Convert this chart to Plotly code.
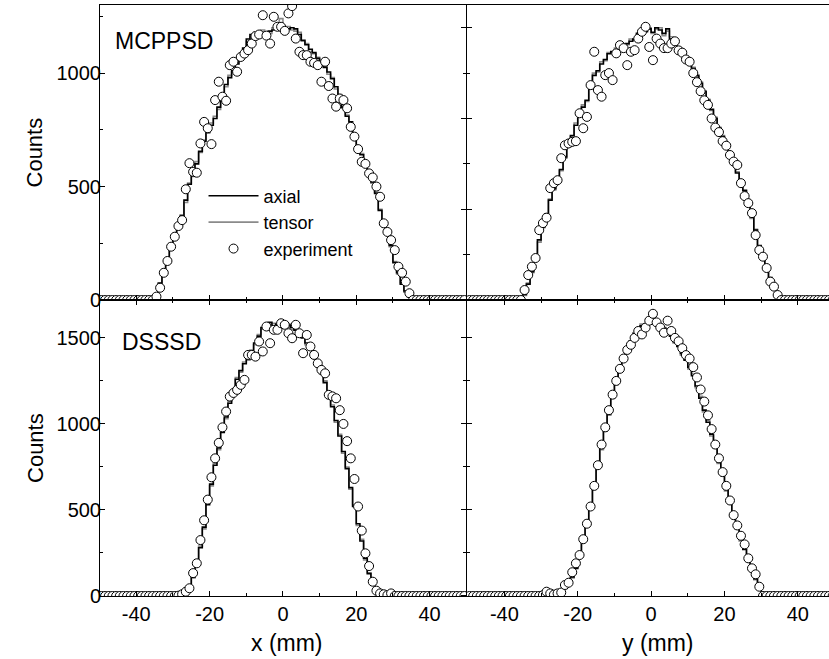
import plotly.graph_objects as go

# bin centres (mm), 1 mm bins from -50 to 50
bins = [i + 0.5 for i in range(-50, 50)]

# ---- MCPPSD, x profile (bins -34.5 .. 34.5 non-zero) ----
mcp_x_exp = [0] * 15 + [
    15, 54, 120, 172, 235, 279, 326, 352, 488, 603,
    565, 561, 690, 785, 757, 687, 881, 962, 896, 878,
    1035, 1050, 1006, 1071, 1086, 1101, 1130, 1163, 1170, 1255,
    1165, 1130, 1248, 1204, 1204, 1186, 1263, 1295, 1152, 1094,
    1079, 1079, 1050, 1045, 1035, 962, 1050, 943, 888, 852,
    888, 881, 845, 763, 720, 665, 609, 600, 558, 540,
    500, 455, 338, 300, 264, 220, 147, 120, 81, 30] + [0] * 15
mcp_x_axial = [0] * 15 + [
    15, 75, 120, 170, 225, 270, 320, 370, 440, 510,
    560, 600, 655, 700, 740, 770, 800, 850, 900, 950,
    980, 1010, 1040, 1070, 1110, 1150, 1170, 1170, 1175, 1180,
    1175, 1185, 1190, 1200, 1210, 1200, 1195, 1200, 1195, 1170,
    1145, 1125, 1105, 1090, 1065, 1045, 1025, 1005, 975, 940,
    900, 850, 810, 785, 730, 675, 640, 605, 560, 520,
    470, 395, 345, 290, 240, 165, 120, 70, 40, 15] + [0] * 15
mcp_x_tensor = [0] * 15 + [
    15, 70, 125, 165, 230, 265, 330, 375, 430, 515,
    545, 610, 650, 705, 735, 780, 810, 840, 905, 940,
    990, 1005, 1050, 1065, 1100, 1140, 1160, 1180, 1165, 1190,
    1180, 1175, 1200, 1215, 1240, 1195, 1205, 1190, 1185, 1180,
    1140, 1130, 1095, 1085, 1070, 1040, 1030, 995, 980, 930,
    905, 845, 815, 775, 735, 670, 645, 600, 565, 515,
    475, 400, 340, 295, 235, 170, 115, 75, 35, 12] + [0] * 15

# ---- MCPPSD, y profile ----
mcp_y_exp = [0] * 15 + [
    44, 110, 147, 185, 308, 339, 363, 493, 515, 528,
    625, 682, 690, 697, 700, 823, 757, 807, 947, 1094,
    925, 896, 991, 1000, 969, 1087, 1123, 1110, 1035, 1094,
    1101, 1152, 1182, 1204, 1115, 1057, 1152, 1130, 1110, 1110,
    1130, 1140, 1100, 1090, 1060, 1050, 1000, 960, 920, 880,
    860, 800, 760, 740, 700, 680, 639, 610, 595, 515,
    458, 427, 383, 286, 220, 191, 141, 81, 59, 22] + [0] * 15
mcp_y_axial = [0] * 15 + [
    25, 70, 125, 180, 265, 320, 380, 440, 490, 530,
    575, 631, 680, 725, 770, 820, 850, 880, 940, 990,
    1010, 1040, 1060, 1085, 1095, 1100, 1110, 1120, 1130, 1140,
    1150, 1175, 1180, 1185, 1195, 1180, 1200, 1190, 1175, 1195,
    1150, 1130, 1110, 1090, 1070, 1045, 1020, 990, 955, 920,
    880, 840, 800, 760, 720, 680, 646, 610, 560, 520,
    484, 420, 367, 308, 240, 195, 150, 95, 55, 15] + [0] * 15
mcp_y_tensor = [0] * 15 + [
    20, 75, 120, 185, 255, 325, 375, 445, 485, 540,
    570, 625, 690, 720, 780, 810, 860, 875, 930, 1000,
    1005, 1050, 1055, 1090, 1090, 1110, 1105, 1125, 1125, 1150,
    1145, 1165, 1190, 1180, 1200, 1175, 1195, 1200, 1165, 1185,
    1160, 1125, 1115, 1085, 1075, 1040, 1025, 985, 960, 915,
    885, 835, 805, 755, 725, 675, 650, 605, 565, 515,
    480, 425, 360, 312, 235, 200, 145, 100, 50, 18] + [0] * 15

# ---- DSSSD, x profile (bins -29.5 .. 29.5) ----
dss_x_exp = [0] * 20 + [
    0, 2, 10, 25, 45, 133, 190, 325, 440, 560,
    690, 800, 890, 980, 1072, 1159, 1180, 1198, 1227, 1256,
    1401, 1401, 1391, 1479, 1421, 1566, 1469, 1547, 1547, 1585,
    1576, 1527, 1498, 1576, 1527, 1411, 1517, 1450, 1401, 1352,
    1314, 1294, 1169, 1160, 1149, 1080, 1000, 900, 800, 680,
    520, 380, 248, 174, 83, 31, 15, 10, 5, 15] + [0] * 20
dss_x_axial = [0] * 20 + [
    0, 3, 8, 20, 50, 110, 180, 280, 400, 530,
    650, 760, 860, 950, 1040, 1120, 1190, 1260, 1310, 1350,
    1380, 1420, 1470, 1510, 1560, 1560, 1590, 1570, 1580, 1590,
    1570, 1575, 1560, 1545, 1520, 1500, 1470, 1430, 1390, 1340,
    1300, 1240, 1170, 1100, 1020, 930, 840, 740, 630, 520,
    420, 320, 220, 130, 80, 40, 15, 5, 2, 0] + [0] * 20
dss_x_tensor = [0] * 20 + [
    0, 2, 10, 22, 55, 105, 185, 290, 390, 540,
    640, 770, 850, 960, 1030, 1130, 1180, 1270, 1300, 1360,
    1370, 1430, 1460, 1520, 1550, 1575, 1580, 1585, 1570, 1600,
    1565, 1580, 1550, 1550, 1515, 1505, 1460, 1440, 1380, 1345,
    1290, 1250, 1160, 1110, 1010, 940, 830, 750, 620, 530,
    410, 330, 210, 135, 75, 45, 12, 6, 1, 0] + [0] * 20

# ---- DSSSD, y profile ----
dss_y_exp = [0] * 20 + [
    5, 25, 15, 8, 15, 20, 64, 77, 138, 190,
    238, 330, 420, 520, 640, 760, 880, 980, 1080, 1170,
    1250, 1320, 1380, 1430, 1460, 1500, 1540, 1520, 1560, 1600,
    1640, 1590, 1560, 1530, 1600, 1540, 1500, 1480, 1440, 1400,
    1380, 1330, 1270, 1200, 1130, 1050, 970, 880, 800, 720,
    640, 555, 470, 410, 350, 300, 219, 161, 126, 54] + [0] * 20
dss_y_axial = [0] * 20 + [
    2, 5, 8, 12, 18, 28, 45, 70, 110, 160,
    230, 320, 420, 530, 640, 750, 860, 960, 1060, 1150,
    1240, 1310, 1380, 1430, 1480, 1520, 1550, 1570, 1580, 1590,
    1590, 1580, 1570, 1555, 1540, 1510, 1480, 1450, 1410, 1370,
    1330, 1280, 1220, 1150, 1080, 1010, 940, 860, 780, 700,
    620, 540, 460, 390, 330, 270, 210, 150, 100, 45] + [0] * 20
dss_y_tensor = [0] * 20 + [
    1, 4, 9, 14, 16, 30, 42, 75, 105, 165,
    225, 330, 410, 540, 630, 760, 850, 970, 1050, 1160,
    1230, 1320, 1370, 1440, 1470, 1530, 1540, 1580, 1575, 1600,
    1580, 1590, 1560, 1560, 1530, 1515, 1470, 1455, 1400, 1375,
    1320, 1290, 1210, 1160, 1070, 1020, 930, 870, 770, 710,
    610, 550, 450, 400, 320, 275, 200, 155, 95, 40] + [0] * 20

x_tick_vals = [-40, -20, 0, 20, 40]
x_tick_text = ["-40", "-20", "0", "20", "40"]
x_minor_step = 10

FONT = "Liberation Sans, Arial, Helvetica, sans-serif"
AXIAL_COLOR = "#000000"
TENSOR_COLOR = "#8a8a8a"

fig = go.Figure()

panels = [
    ("x", "y", mcp_x_axial, mcp_x_tensor, mcp_x_exp, True),
    ("x2", "y2", mcp_y_axial, mcp_y_tensor, mcp_y_exp, False),
    ("x3", "y3", dss_x_axial, dss_x_tensor, dss_x_exp, False),
    ("x4", "y4", dss_y_axial, dss_y_tensor, dss_y_exp, False),
]

for xa, ya, ax, te, ex, show in panels:
    fig.add_trace(go.Scatter(x=bins, y=te, mode="lines", line=dict(color=TENSOR_COLOR, width=1.6, shape="hvh"),
                             name="tensor", legendrank=2, showlegend=show, xaxis=xa, yaxis=ya))
    fig.add_trace(go.Scatter(x=bins, y=ax, mode="lines", line=dict(color=AXIAL_COLOR, width=1.6, shape="hvh"),
                             name="axial", legendrank=1, showlegend=show, xaxis=xa, yaxis=ya))
    fig.add_trace(go.Scatter(x=bins, y=ex, mode="markers",
                             marker=dict(symbol="circle", size=9, color="white", line=dict(color="black", width=1)),
                             name="experiment", legendrank=3, showlegend=show, xaxis=xa, yaxis=ya))

# dummy traces for the crossing-tick overlay axes
fig.add_trace(go.Scatter(x=[None], y=[None], xaxis="x2", yaxis="y5", showlegend=False, hoverinfo="skip"))
fig.add_trace(go.Scatter(x=[None], y=[None], xaxis="x4", yaxis="y6", showlegend=False, hoverinfo="skip"))

XL = [-49.9, 50.2]
XR = [-50.2, 48.5]
YT = [0, 1300]
YB = [0, 1720]
XD_L = [0, 0.5034]
XD_R = [0.5034, 1]
YD_T = [0.5008, 1]
YD_B = [0, 0.5008]

tickfont = dict(family=FONT, size=20, color="black")


def xax(domain, rng, anchor, labels, mirror):
    return dict(domain=domain, range=rng, anchor=anchor, showgrid=False, zeroline=False,
                showline=True, linecolor="black", linewidth=1, mirror=mirror,
                ticks="inside", ticklen=5, tickcolor="black", tickwidth=1,
                tickmode="array", tickvals=x_tick_vals, ticktext=x_tick_text,
                showticklabels=labels, tickfont=tickfont,
                minor=dict(ticks="inside", ticklen=3, dtick=x_minor_step, tick0=0, tickcolor="black"),
                fixedrange=True)


def yax(domain, rng, anchor, labels, dtick, mdtick, ticks="inside", showline=True, overlaying=None):
    d = dict(domain=domain, range=rng, anchor=anchor, showgrid=False, zeroline=False,
             showline=showline, linecolor="black", linewidth=1,
             ticks=ticks, ticklen=5, tickcolor="black", tickwidth=1,
             tick0=0, dtick=dtick, showticklabels=labels, tickfont=tickfont,
             minor=dict(ticks=ticks, ticklen=3, dtick=mdtick, tick0=0, tickcolor="black"),
             fixedrange=True)
    if labels:
        d["ticklabelstandoff"] = -6
    if overlaying:
        d["overlaying"] = overlaying
        d["side"] = "left"
    return d


fig.update_layout(
    width=829, height=659,
    margin=dict(l=100, r=0, t=5, b=63),
    paper_bgcolor="white", plot_bgcolor="white",
    font=dict(family=FONT, color="black"),
    xaxis=xax(XD_L, XL, "y", False, True),
    xaxis2=xax(XD_R, XR, "y2", False, True),
    xaxis3=xax(XD_L, XL, "y3", True, "ticks"),
    xaxis4=xax(XD_R, XR, "y4", True, "ticks"),
    yaxis=yax(YD_T, YT, "x", True, 500, 250),
    yaxis2=yax(YD_T, YT, "x2", False, 400, 200),
    yaxis3=yax(YD_B, YB, "x3", True, 500, 250),
    yaxis4=yax(YD_B, YB, "x4", False, 500, 250),
    yaxis5=yax(YD_T, YT, "x2", False, 400, 200, ticks="outside", showline=False, overlaying="y2"),
    yaxis6=yax(YD_B, YB, "x4", False, 500, 250, ticks="outside", showline=False, overlaying="y4"),
    showlegend=True,
    legend=dict(x=0.142, y=0.708, xanchor="left", yanchor="top", bgcolor="rgba(0,0,0,0)",
                font=dict(family=FONT, size=18, color="black"), itemwidth=50,
                tracegroupgap=0, traceorder="normal"),
)

label_font = dict(family=FONT, size=23, color="black")
x_title_font = dict(family=FONT, size=23, color="black")
y_title_font = dict(family=FONT, size=22, color="black")
annotations = [
    dict(text="MCPPSD", x=0.0178, y=0.9396, xanchor="left", yanchor="middle", font=label_font),
    dict(text="DSSSD", x=0.0274, y=0.4303, xanchor="left", yanchor="middle", font=label_font),
    dict(text="x (mm)", x=0.2565, y=-0.0795, xanchor="center", yanchor="middle", font=x_title_font),
    dict(text="y (mm)", x=0.7654, y=-0.0795, xanchor="center", yanchor="middle", font=x_title_font),
    dict(text="Counts", x=-0.0892, y=0.7504, xanchor="center", yanchor="middle", textangle=-90, font=y_title_font),
    dict(text="Counts", x=-0.0892, y=0.2504, xanchor="center", yanchor="middle", textangle=-90, font=y_title_font),
]
for a in annotations:
    a.update(xref="paper", yref="paper", showarrow=False)
fig.update_layout(annotations=annotations)

fig.write_html("out.html", config={"displayModeBar": False},
               post_script="document.body.style.margin='0px';document.body.style.overflow='hidden';")
